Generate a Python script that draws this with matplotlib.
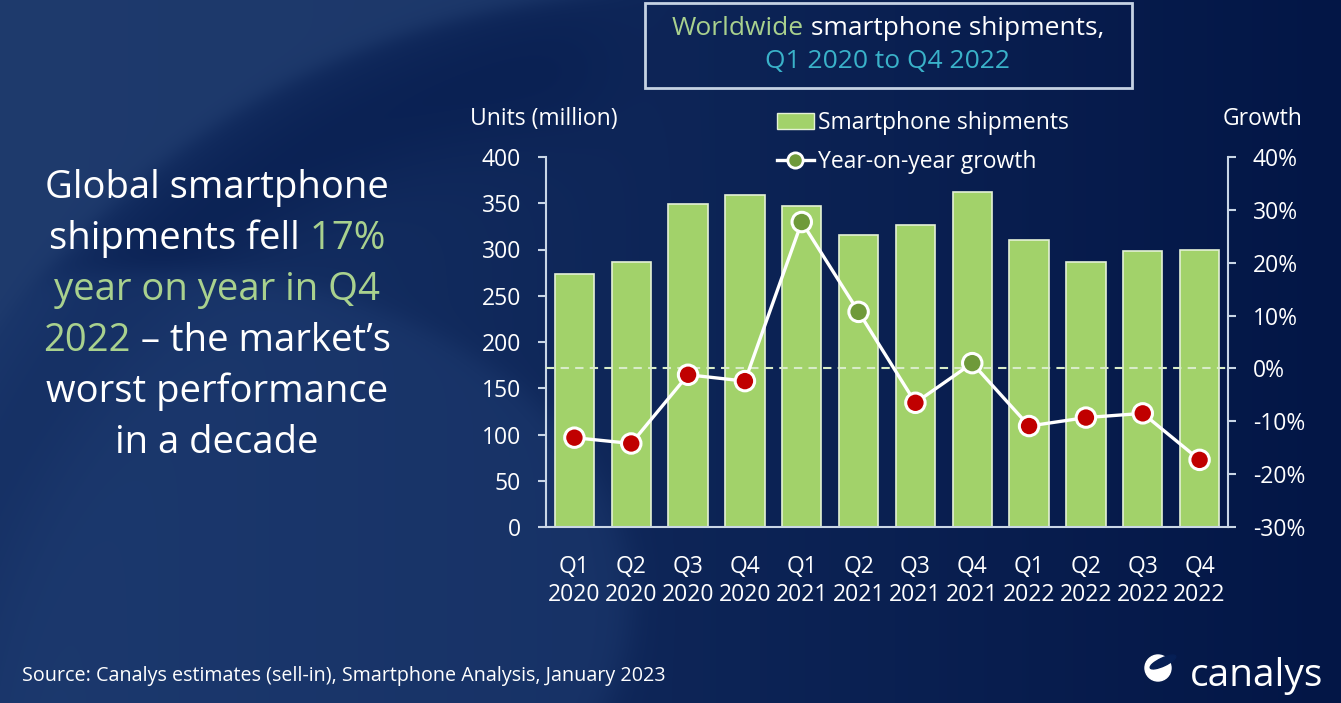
import numpy as np
import matplotlib
matplotlib.use('Agg')
import matplotlib.pyplot as plt
from matplotlib.patches import Rectangle, Ellipse, Patch
from matplotlib.lines import Line2D
from matplotlib.ticker import FuncFormatter

plt.rcParams['font.family'] = ['Open Sans', 'DejaVu Sans']

# data
quarters = ['Q1', 'Q2', 'Q3', 'Q4'] * 3
years = ['2020'] * 4 + ['2021'] * 4 + ['2022'] * 4
shipments = [274, 286, 349, 359, 347, 316, 326, 362, 310, 286, 298, 300]   # million units
growth = [-13.1, -14.2, -1.2, -2.4, 27.7, 10.7, -6.5, 1.0, -10.9, -9.3, -8.5, -17.3]  # % YoY

GREEN_TXT = '#a9d18e'
CYAN_TXT = '#3ab2c9'
BAR = '#a2d26a'
BAR_EDGE = '#e4f1d6'
AXIS_C = '#c9d6e6'
RED = '#c00000'
OLIVE = '#6f9a3a'

W, H = 1341, 703
fig = plt.figure(figsize=(W / 100, H / 100), dpi=100)

# background layer in pixel coordinates
deco = fig.add_axes([0, 0, 1, 1], zorder=-1)
deco.set_xlim(0, W)
deco.set_ylim(H, 0)
deco.axis('off')

yy, xx = np.mgrid[0:H, 0:W].astype(float)
t = (xx / W)[..., None]
img = np.array([24, 52, 104]) * (1 - t) + np.array([3, 22, 70]) * t
leftside = 1 / (1 + np.exp(-(600 - xx) / 25))
d = np.hypot(xx - 654, yy - 800) - 805
outside = 1 / (1 + np.exp(-d / 6)) * leftside
band = np.exp(-((d + 70) / 70) ** 2) * (1 - outside) * leftside
e = ((xx - 150) / 480) ** 2 + ((yy - 600) / 330) ** 2
blob = 1 / (1 + np.exp(-(1 - e) * 25)) * (1 - outside)
img = img * (1 - outside[..., None] * 0.8) + np.array([32, 60, 110]) * outside[..., None] * 0.8
img = img * (1 - band[..., None] * 0.7) + np.array([8, 30, 80]) * band[..., None] * 0.7
img = img * (1 - blob[..., None] * 0.5) + np.array([32, 62, 116]) * blob[..., None] * 0.5
deco.imshow(img.astype(np.uint8), extent=(0, W, H, 0), aspect='auto', zorder=0)


def rich_line(cx, base_y, parts, size):
    r = fig.canvas.get_renderer()
    full = ''.join(s for s, _ in parts)
    tmp = deco.text(0, 0, full, fontsize=size)
    total = tmp.get_window_extent(r).width
    tmp.remove()
    left = cx - total / 2
    prefix = ''
    for s, c in parts:
        off = 0
        if prefix:
            tmp = deco.text(0, 0, prefix, fontsize=size)
            off = tmp.get_window_extent(r).width
            tmp.remove()
        deco.text(left + off, base_y, s, color=c, fontsize=size, va='baseline', ha='left', zorder=3)
        prefix += s


# left headline
headline = [
    [('Global smartphone', 'white')],
    [('shipments fell', 'white'), (' 17%', GREEN_TXT)],
    [('year on year in Q4', GREEN_TXT)],
    [('2022', GREEN_TXT), (' \u2013 the market\u2019s', 'white')],
    [('worst performance', 'white')],
    [('in a decade', 'white')],
]
for i, parts in enumerate(headline):
    rich_line(217, 198 + i * 51, parts, 27.5)

# title box
deco.add_patch(Rectangle((645, 3), 487, 85, fill=False, edgecolor='#c5d2e3', lw=2, zorder=3))
rich_line(888, 35, [('Worldwide', GREEN_TXT), (' smartphone shipments,', 'white')], 19)
rich_line(888, 68, [('Q1 2020 to Q4 2022', CYAN_TXT)], 19)

deco.text(470, 125, 'Units (million)', color='white', fontsize=16.5, va='baseline')
deco.text(1223, 125, 'Growth', color='white', fontsize=16.5, va='baseline')
deco.text(22, 681, 'Source: Canalys estimates (sell-in), Smartphone Analysis, January 2023',
          color='white', fontsize=14.2, va='baseline')

# canalys logo
deco.add_patch(Ellipse((1158, 668), 26, 26, color='white', zorder=3))
deco.add_patch(Ellipse((1163, 662), 28, 8, angle=-25, color='#061f55', zorder=4))
deco.text(1190, 686, 'canalys', color='white', fontsize=28, va='baseline')

# main chart
ax = fig.add_axes([546 / W, 1 - 527 / H, (1228 - 546) / W, (527 - 157) / H])
ax.patch.set_visible(False)
x = np.arange(len(shipments))
ax.bar(x, shipments, width=0.69, color=BAR, edgecolor=BAR_EDGE, linewidth=1.2, zorder=2)
ax.set_xlim(-0.5, 11.5)
ax.set_ylim(0, 400)
ax.set_yticks(range(0, 401, 50))
ax.set_xticks(x)
ax.set_xticklabels([f'{q}\n{y}' for q, y in zip(quarters, years)], linespacing=1.25)
ax.tick_params(axis='x', length=0, pad=20, labelsize=16.5, labelcolor='white')
ax.tick_params(axis='y', direction='out', length=6, width=1.5, color=AXIS_C, pad=12,
               labelsize=16.5, labelcolor='white')
for s in ['top', 'right']:
    ax.spines[s].set_visible(False)
for s in ['left', 'bottom']:
    ax.spines[s].set_color(AXIS_C)
    ax.spines[s].set_linewidth(1.5)

ax2 = ax.twinx()
ax2.set_ylim(-30, 40)
ax2.set_yticks(range(-30, 41, 10))
ax2.yaxis.set_major_formatter(FuncFormatter(lambda v, p: f'{int(v)}%'))
ax2.tick_params(axis='y', direction='out', length=6, width=1.5, color=AXIS_C, pad=12,
                labelsize=16.5, labelcolor='white')
for s in ['top', 'left', 'bottom']:
    ax2.spines[s].set_visible(False)
ax2.spines['right'].set_color(AXIS_C)
ax2.spines['right'].set_linewidth(1.5)

ax2.axhline(0, color='#d8ecc8', lw=1.5, ls=(0, (4, 3)), zorder=1)
ax2.plot(x, growth, color='white', lw=2.4, zorder=3)
mcolors = [OLIVE if g > 0 else RED for g in growth]
ax2.scatter(x, growth, s=196, c=mcolors, edgecolors='white', linewidths=2.2, zorder=4)

handles = [Patch(facecolor=BAR, edgecolor=BAR_EDGE),
           Line2D([0], [0], color='white', lw=2.4, marker='o', ms=11, mfc=OLIVE, mec='white', mew=2)]
fig.legend(handles, ['Smartphone shipments', 'Year-on-year growth'], loc='upper left',
           bbox_to_anchor=(777 / W, 1 - 111 / H), frameon=False, fontsize=16.5, labelcolor='white',
           handlelength=1.6, handletextpad=0.2, labelspacing=0.65, borderpad=0, borderaxespad=0)

fig.savefig('out.png', dpi=100)
